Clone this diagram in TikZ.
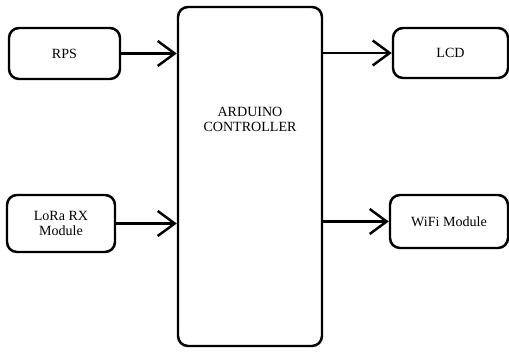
\documentclass[tikz,border=0pt]{standalone}
\usepackage{fontspec}
\setmainfont{Liberation Serif}
\usetikzlibrary{arrows.meta,positioning}

\begin{document}
\begin{tikzpicture}[
    block/.style={draw, line width=1.4pt, rounded corners=0.2cm, font=\fontsize{8}{8.8}\selectfont, align=center},
    link/.style={line width=1.4pt, -{Straight Barb[length=0.34cm, width=0.5cm, line width=1.4pt]}}
  ]
    \useasboundingbox (0, 0) rectangle (10.18, 7.04);

    % Controller in the middle
    \node[block, minimum width=2.88cm, minimum height=6.78cm] (ctrl) at (5.0, 3.51) {};
    \node[font=\fontsize{8}{8.8}\selectfont, align=center] (ctrllbl) at ([yshift=-2.27cm]ctrl.north) {ARDUINO\\CONTROLLER};

    % === Inputs ===
    \node[block, minimum width=2.22cm, minimum height=1.02cm] (rps) at (1.29, 5.97) {RPS};
    \node[block, minimum width=2.16cm, minimum height=1.14cm] (lora) at (1.22, 2.57) {LoRa RX\\Module};

    % === Outputs ===
    \node[block, minimum width=2.3cm, minimum height=1.0cm] (lcd) at (9.01, 5.98) {LCD};
    \node[block, minimum width=2.36cm, minimum height=1.06cm] (wifi) at (8.98, 2.61) {WiFi Module};

    % Connectors
    \draw[link] (rps.east) -- (rps.east -| ctrl.west);
    \draw[link] (lora.east) -- (lora.east -| ctrl.west);
    \draw[link] (ctrl.east |- lcd.west) -- (lcd.west);
    \draw[link] (ctrl.east |- wifi.west) -- (wifi.west);

\end{tikzpicture}
\end{document}
